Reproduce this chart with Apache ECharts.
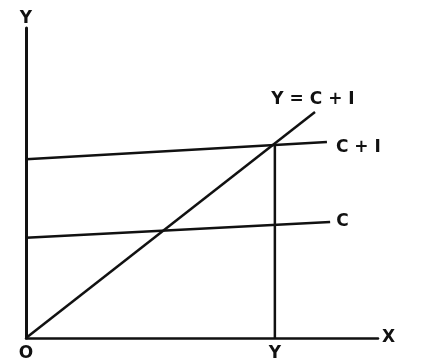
<!DOCTYPE html>
<html>
<head>
<meta charset="utf-8">
<script src="https://cdn.jsdelivr.net/npm/echarts@6/dist/echarts.min.js"></script>
<style>
	html, body { margin: 0; padding: 0; background: #fff; }
	#keynes-chart { width: 424px; height: 363px; }
</style>
</head>
<body>
<div id="keynes-chart"></div>
<script>
// 45度线 Y = C + I
var incomeLine = [[0, 0], [82.1, 72.9]];
// 总需求 C + I
var demandLine = [[0, 57.7], [85.5, 63.2]];
// 消费 C
var consumeLine = [[0, 32.3], [86.4, 37.4]];
// 均衡收入处的竖线
var equilibriumLine = [[70.7, 0], [70.7, 62.6]];
// x轴下面的字
var xTickValues = [0, 70.7];
var xTickLabels = ['O', 'Y'];

var seriesNames = ['Y = C + I', 'C + I', 'C'];

var font = 'DejaVu Sans';
var ink = '#111';

// 线的末端文字，symbol 是 none 的时候普通 label 不显示，只能用 endLabel
function endText(text, align, vAlign, distance, offset) {
	return {
		show: true,
		formatter: text,
		align: align,
		verticalAlign: vAlign,
		distance: distance,
		offset: offset,
		color: ink,
		fontFamily: font,
		fontWeight: 'bold',
		fontSize: 17
	};
}

var option_keynes = {
	animation: false,
	grid: {
		left: 26,
		right: 46,
		top: 28,
		bottom: 25
	},
	xAxis: {
		type: 'value',
		min: 0,
		max: 100,
		name: 'X',
		nameLocation: 'end',
		nameGap: 4,
		nameTextStyle: { color: ink, fontFamily: font, fontWeight: 'bold', fontSize: 17, verticalAlign: 'middle', padding: [3, 0, 0, 0] },
		axisLine: { lineStyle: { color: ink, width: 2.5 } },
		axisTick: { show: false },
		splitLine: { show: false },
		axisLabel: {
			customValues: xTickValues,
			margin: 7,
			color: ink,
			fontFamily: font,
			fontWeight: 'bold',
			fontSize: 17,
			formatter: function (v) {
				return xTickLabels[xTickValues.indexOf(v)];
			}
		}
	},
	yAxis: {
		type: 'value',
		min: 0,
		max: 100,
		name: 'Y',
		nameLocation: 'end',
		nameGap: 1,
		nameTextStyle: { color: ink, fontFamily: font, fontWeight: 'bold', fontSize: 17 },
		axisLine: { lineStyle: { color: ink, width: 3 } },
		axisTick: { show: false },
		axisLabel: { show: false },
		splitLine: { show: false }
	},
	series: [
		{
			name: seriesNames[0],
			type: 'line',
			data: incomeLine,
			symbol: 'none',
			lineStyle: { color: ink, width: 2.5 },
			endLabel: endText(seriesNames[0], 'center', 'bottom', 0, [-2, -4])
		},
		{
			name: seriesNames[1],
			type: 'line',
			data: demandLine,
			symbol: 'none',
			lineStyle: { color: ink, width: 2.5 },
			endLabel: endText(seriesNames[1], 'left', 'middle', 9, [0, 5])
		},
		{
			name: seriesNames[2],
			type: 'line',
			data: consumeLine,
			symbol: 'none',
			lineStyle: { color: ink, width: 2.5 },
			endLabel: endText(seriesNames[2], 'left', 'middle', 6, [0, 0])
		},
		{
			type: 'line',
			data: equilibriumLine,
			symbol: 'none',
			lineStyle: { color: ink, width: 2.5 }
		}
	]
};

var keynesChart = echarts.init(document.getElementById('keynes-chart'));
keynesChart.setOption(option_keynes);
</script>
</body>
</html>
